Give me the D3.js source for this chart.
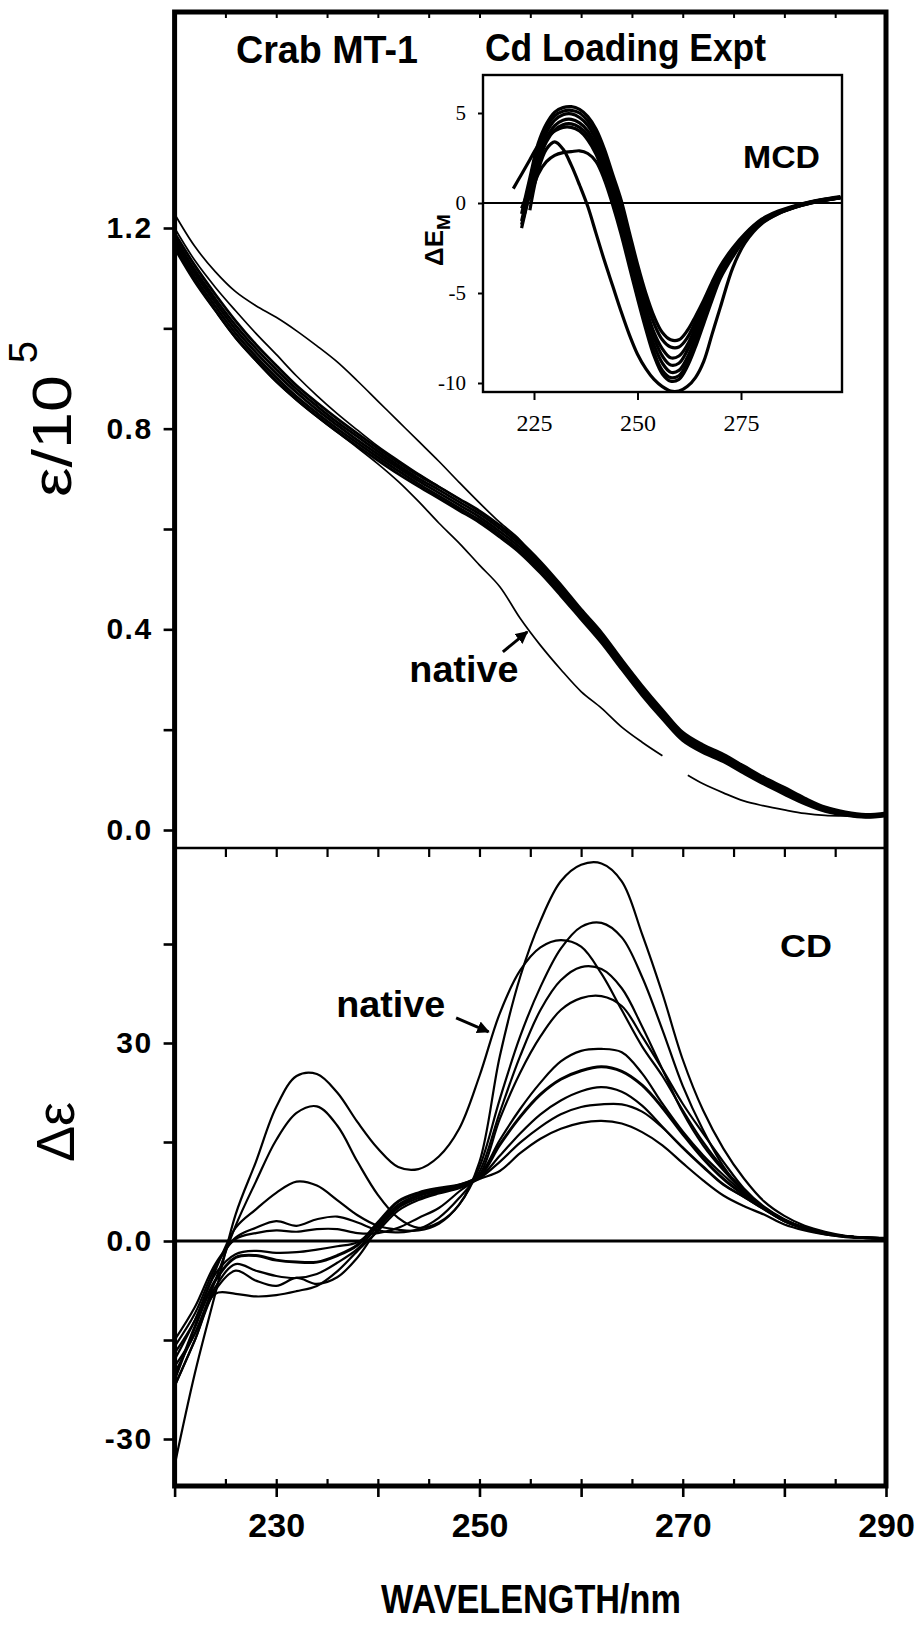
<!DOCTYPE html>
<html>
<head>
<meta charset="utf-8">
<style>
  body { margin: 0; background: #fff; }
  svg { display: block; background: #fff; }
  .lbl { font-family: "Liberation Sans", Arial, Helvetica, sans-serif; font-weight: bold; fill: #000; }
  .axis text { font-family: "Liberation Sans", Arial, Helvetica, sans-serif; font-weight: bold; fill: #000; }
  .axis line { stroke: #000; }
  .inset text { font-family: "Liberation Serif", "Times New Roman", serif; font-weight: normal; }
</style>
</head>
<body>
<svg id="chart" width="920" height="1625"></svg>
<script src="https://cdn.jsdelivr.net/npm/d3@7"></script>
<script>
// wavelength grid (nm) shared by the absorption and CD traces
const wl = [220,222,224,226,228,230,232,234,236,238,240,242,244,246,248,250,252,254,256,258,260,262,264,266,268,270,272,274,276,278,280,282,284,286,288,290];

// absorption, epsilon/10^5 (upper panel)
const absU  = [1.228,1.163,1.113,1.073,1.045,1.022,0.995,0.965,0.933,0.895,0.855,0.815,0.775,0.735,0.693,0.652,0.613,0.578,0.528,0.481,0.433,0.386,0.331,0.279,0.233,0.191,0.164,0.146,0.124,0.101,0.081,0.061,0.043,0.033,0.029,0.031];
const absV  = [1.200,1.135,1.082,1.035,0.990,0.948,0.905,0.866,0.830,0.797,0.765,0.737,0.710,0.685,0.660,0.635,0.606,0.574,0.533,0.487,0.438,0.391,0.337,0.285,0.237,0.193,0.167,0.149,0.126,0.103,0.083,0.062,0.045,0.035,0.030,0.033];
const absB1 = [1.190,1.125,1.068,1.015,0.968,0.926,0.886,0.852,0.820,0.790,0.761,0.733,0.707,0.684,0.660,0.636,0.607,0.575,0.535,0.489,0.440,0.394,0.340,0.288,0.240,0.195,0.170,0.151,0.128,0.105,0.085,0.064,0.046,0.036,0.031,0.034];
const absB2 = [1.182,1.116,1.059,1.006,0.960,0.918,0.879,0.845,0.813,0.784,0.755,0.727,0.701,0.678,0.654,0.630,0.601,0.569,0.529,0.484,0.435,0.388,0.334,0.282,0.235,0.190,0.165,0.147,0.124,0.101,0.081,0.060,0.043,0.033,0.029,0.032];
const absB3 = [1.175,1.109,1.052,0.998,0.952,0.910,0.872,0.838,0.807,0.777,0.749,0.722,0.696,0.672,0.648,0.624,0.595,0.563,0.523,0.478,0.430,0.383,0.329,0.277,0.230,0.186,0.161,0.143,0.120,0.098,0.078,0.057,0.041,0.031,0.027,0.030];
const absB4 = [1.168,1.101,1.044,0.990,0.944,0.902,0.864,0.831,0.800,0.771,0.743,0.716,0.690,0.666,0.642,0.618,0.589,0.557,0.517,0.472,0.425,0.378,0.324,0.272,0.225,0.182,0.157,0.139,0.116,0.094,0.074,0.054,0.039,0.030,0.026,0.029];
const absB5 = [1.160,1.093,1.036,0.982,0.937,0.895,0.858,0.825,0.794,0.765,0.737,0.710,0.685,0.661,0.637,0.613,0.584,0.552,0.512,0.467,0.420,0.373,0.320,0.268,0.221,0.178,0.154,0.136,0.113,0.091,0.071,0.052,0.037,0.029,0.025,0.028];
// native absorption has a pen break near 269 nm
const absNativeWl = [220,222,224,226,228,230,232,234,236,238,240,242,244,246,248,250,252,254,256,258,260,262,264,266,268,269,270.5,272,274,276,278,280,282,284,286,288,290];
const absNative   = [1.165,1.095,1.035,0.980,0.935,0.893,0.857,0.824,0.793,0.762,0.730,0.695,0.655,0.612,0.572,0.528,0.485,0.422,0.368,0.320,0.276,0.243,0.205,0.175,0.148,null,0.109,0.092,0.074,0.058,0.048,0.040,0.033,0.029,0.028,0.027,0.030];

// CD, delta epsilon (lower panel)
const cdNative = [-34,-20,-8,4,12,20.3,25,25.3,22.5,18,14,11.2,10.9,12.8,17,25,34.5,41,44.5,45.6,44.6,40.5,35,29.5,25,19.8,15,11,7.8,5,3.2,2,1.2,0.7,0.5,0.4];
const cd1 = [-19,-14,-6,2.3,9,15.3,19.4,20.4,17.5,12,7,3.5,2,2.8,5.5,12,28,40,48.5,54.5,57,57.2,54.5,46.5,37.5,27.5,19.8,14,9.5,6,3.8,2.3,1.4,0.8,0.5,0.4];
const cd2 = [-17,-12,-4.5,2,4.8,7.3,9,8.4,6.2,3.9,2.3,1.7,1.6,2.6,5.5,11.2,21.5,31,38.5,44.3,47.6,48.2,46,40,32,23.5,16.8,11.3,7.5,5,3.2,2,1.2,0.7,0.5,0.4];
const cd3 = [-16,-11,-4,0.5,2,3,2.3,3.3,3.7,2.8,1.6,1.3,1.8,3.5,6.5,10.5,19.5,28,35,39.5,41.5,41.2,38.3,32.5,26,19.5,14.5,10.7,7.5,5,3.2,2,1.2,0.7,0.5,0.4];
const cd4 = [-15,-10,-3.5,0.3,1.2,1.6,1.4,1.8,1.8,1.2,1.2,2,3.5,5,7.5,10,18.5,25.5,31,35,36.8,37.1,35.6,31,26,20.8,16.3,12,8,5.2,3.3,2,1.2,0.7,0.5,0.4];
const cd5 = [-18,-12,-5,-2,-1.5,-1.8,-1.7,-1.3,-0.8,-0.2,2.5,5.5,7,7.8,8.5,10,15.3,20,24,27.2,28.8,29.1,28.6,25.4,20.8,16.6,13,10,7.3,5,3.2,2,1.2,0.7,0.5,0.4];
const cd6 = [-21,-13,-6,-2.5,-2.2,-2.9,-3.2,-3.2,-2.2,-0.6,2.8,6,7.3,8,8.5,9.8,14.6,18.8,22.2,24.5,25.8,26.4,25.7,23.6,20.2,16.2,12.5,9.4,7,5,3.1,1.9,1.1,0.7,0.5,0.4];
const cd7 = [-20,-14,-7,-3.5,-4.5,-5.3,-5.6,-5,-3.3,-1.2,2.2,5.2,6.8,7.6,8.3,9.6,12.9,16.3,19.2,21.3,22.7,23.3,22.6,20.5,17.3,14.1,11.2,8.5,6.7,4.8,3,1.9,1.1,0.7,0.5,0.4];
const cd8 = [-22,-15,-7.5,-4.5,-6,-6.8,-5.6,-6.5,-5.5,-2.5,1.8,5,6.5,7.4,8.2,9.5,12,14.9,17.3,19.2,20.3,20.7,20.7,19.6,17.2,14.2,11.3,8.6,6.7,4.8,3,1.9,1.1,0.7,0.5,0.4];
const cd9 = [-22,-15,-8,-8,-8.4,-8.2,-7.6,-6.8,-4.6,-1.5,1.5,4.6,6.2,7.2,8,9.4,10.6,13.3,15.5,17,17.9,18.2,17.8,16.5,14.5,11.8,9.2,6.9,5.3,4,2.5,1.6,1,0.6,0.45,0.4];

// MCD inset, delta E_M
const mcdWl = [220,222,224,226,228,230,232,234,236,238,240,242,244,246,248,250,252,254,256,258,260,262,264,266,268,270,273,276,280,284,288,292,296,299];
const mcd1 = [null,-0.6,1.4,3.3,4.4,5.05,5.3,5.35,5.2,4.8,4.1,3.0,1.6,0.2,-1.6,-3.4,-5.0,-6.3,-7.2,-7.6,-7.6,-7.1,-6.3,-5.4,-4.4,-3.5,-2.5,-1.7,-0.9,-0.45,-0.15,0.08,0.25,0.35];
const mcd2 = [null,-1.0,1.0,3.0,4.2,4.85,5.1,5.15,5.0,4.55,3.8,2.7,1.3,-0.2,-2.0,-3.8,-5.4,-6.7,-7.6,-8.0,-8.0,-7.5,-6.6,-5.6,-4.6,-3.7,-2.6,-1.75,-0.95,-0.5,-0.18,0.06,0.23,0.33];
const mcd3 = [null,-1.4,0.6,2.6,3.9,4.6,4.9,4.95,4.75,4.3,3.5,2.4,1.0,-0.6,-2.4,-4.2,-5.8,-7.2,-8.1,-8.6,-8.5,-7.9,-6.9,-5.8,-4.8,-3.8,-2.7,-1.8,-1.0,-0.5,-0.2,0.05,0.22,0.32];
const mcd4 = [null,-0.3,0.9,2.5,3.6,4.3,4.6,4.65,4.45,4.0,3.2,2.1,0.7,-0.9,-2.7,-4.5,-6.1,-7.5,-8.5,-9.0,-8.9,-8.2,-7.2,-6.0,-4.9,-3.9,-2.75,-1.85,-1.0,-0.52,-0.2,0.04,0.2,0.3];
const mcd5 = [null,-1.2,0.5,2.2,3.4,4.05,4.35,4.4,4.2,3.75,2.95,1.8,0.4,-1.2,-3.0,-4.8,-6.5,-7.9,-8.9,-9.4,-9.3,-8.6,-7.5,-6.3,-5.1,-4.0,-2.8,-1.9,-1.05,-0.55,-0.22,0.03,0.2,0.3];
const mcd6 = [0.8,1.6,2.4,3.2,3.7,4.0,4.2,4.2,4.0,3.5,2.7,1.5,0.1,-1.5,-3.3,-5.1,-6.8,-8.3,-9.3,-9.7,-9.6,-8.9,-7.8,-6.5,-5.2,-4.1,-2.9,-1.95,-1.1,-0.57,-0.23,0.02,0.18,0.3];
const mcdFlat = [null,null,0.2,1.6,2.3,2.65,2.8,2.85,2.9,2.75,2.3,1.3,-0.1,-1.7,-3.5,-5.3,-7.0,-8.5,-9.5,-9.9,-9.8,-9.1,-8.0,-6.7,-5.4,-4.2,-3.0,-2.0,-1.1,-0.58,-0.24,0.0,0.18,0.28];
const mcdNative = [null,null,-0.4,1.8,3.0,3.4,3.0,2.1,1.0,-0.2,-1.7,-3.2,-4.6,-6.0,-7.3,-8.4,-9.2,-9.8,-10.2,-10.45,-10.45,-10.2,-9.7,-8.8,-7.3,-5.8,-3.6,-2.2,-1.15,-0.6,-0.25,0.0,0.17,0.28];

// ticks and labels
const xMinorTicks = [225,230,235,240,245,250,255,260,265,270,275,280,285];
const xMajorTicks = [220,230,240,250,260,270,280,290];
const xLabels = [230,250,270,290];
const absTicks = [0,0.2,0.4,0.6,0.8,1.0,1.2];
const absLabels = [0,0.4,0.8,1.2];
const cdTicks = [-30,-15,0,15,30,45];
const cdLabels = [-30,0,30];
const mcdYTicks = [5,0,-5,-10];
const mcdXTicks = [225,250,275];

// annotation anchors in data units
const absNote = { text: "native", x: 243.1, y: 0.295, from: [252.3, 0.355], to: [254.7, 0.395] };
const cdNote  = { text: "native", x: 235.9, y: 34.0, from: [247.7, 33.8], to: [250.9, 31.7] };

const svg = d3.select("#chart");

const frameTop = 12, divider = 848, frameBottom = 1486;
const x = d3.scaleLinear().domain([220, 290]).range([174.6, 886]);
const yAbs = d3.scaleLinear().domain([0, 1.2]).range([830, 228]);
const yCd = d3.scaleLinear().domain([0, 30]).range([1241, 1043]);
const xIn = d3.scaleLinear().domain([225, 275]).range([534, 741]);
const yIn = d3.scaleLinear().domain([0, 5]).range([203, 113]);
const inset = { left: 483, right: 842, top: 75, bottom: 392 };

function series(xs, ys) { return xs.map((d, i) => ({ x: d, y: ys[i] })); }

const smooth = d3.curveCatmullRom.alpha(0.5);
const lineAbs = d3.line().defined(d => d.y != null).x(d => x(d.x)).y(d => yAbs(d.y)).curve(smooth);
const lineCd = d3.line().defined(d => d.y != null).x(d => x(d.x)).y(d => yCd(d.y)).curve(smooth);
const lineIn = d3.line().defined(d => d.y != null).x(d => xIn(d.x)).y(d => yIn(d.y)).curve(smooth);

svg.append("defs").append("marker")
  .attr("id", "head").attr("viewBox", "0 0 10 10").attr("refX", 9).attr("refY", 5)
  .attr("markerWidth", 4.2).attr("markerHeight", 4.2).attr("orient", "auto")
  .append("path").attr("d", "M0,0 L10,5 L0,10 z").attr("fill", "#000");

// upper panel: absorption
const gAbs = svg.append("g").attr("fill", "none").attr("stroke", "#000").attr("stroke-linejoin", "round");
gAbs.selectAll("path.band")
  .data([absB1, absB2, absB3, absB4, absB5])
  .join("path").attr("class", "band")
  .attr("stroke-width", 2.8)
  .attr("d", d => lineAbs(series(wl, d)));
gAbs.selectAll("path.thin")
  .data([absU, absV])
  .join("path").attr("class", "thin")
  .attr("stroke-width", 1.7)
  .attr("d", d => lineAbs(series(wl, d)));
gAbs.append("path").attr("stroke-width", 1.7).attr("d", lineAbs(series(absNativeWl, absNative)));

// lower panel: CD
const gCd = svg.append("g").attr("fill", "none").attr("stroke", "#000").attr("stroke-linejoin", "round");
gCd.selectAll("path")
  .data([cdNative, cd1, cd2, cd3, cd4, cd5, cd6, cd7, cd8, cd9])
  .join("path")
  .attr("stroke-width", (d, i) => i == 6 ? 3 : 2.2)
  .attr("d", d => lineCd(series(wl, d)));

svg.append("line").attr("x1", x(220)).attr("x2", x(290)).attr("y1", yCd(0)).attr("y2", yCd(0))
  .attr("stroke", "#000").attr("stroke-width", 3);
svg.append("line").attr("x1", x(220)).attr("x2", x(290)).attr("y1", divider).attr("y2", divider)
  .attr("stroke", "#000").attr("stroke-width", 2.4);

// outer frame
svg.append("rect").attr("x", x(220)).attr("y", frameTop)
  .attr("width", x(290) - x(220)).attr("height", frameBottom - frameTop)
  .attr("fill", "none").attr("stroke", "#000").attr("stroke-width", 5);

function styleAxis(g, size, width) {
  g.select(".domain").remove();
  g.attr("font-size", null).attr("font-family", null);
  g.selectAll("line").attr("stroke-width", width);
  g.selectAll("text").style("font-size", size + "px");
  return g;
}

// x axes
styleAxis(svg.append("g").attr("class", "axis").attr("transform", `translate(0,${frameBottom})`)
  .call(d3.axisBottom(x).tickValues(xMajorTicks).tickSize(11).tickPadding(16)
    .tickFormat(d => xLabels.includes(d) ? d : "")), 34, 2.6);
styleAxis(svg.append("g").attr("class", "axis").attr("transform", `translate(0,${frameBottom})`)
  .call(d3.axisTop(x).tickValues(xMinorTicks).tickSize(7).tickFormat("")), 10, 2.2);
styleAxis(svg.append("g").attr("class", "axis").attr("transform", `translate(0,${divider})`)
  .call(d3.axisBottom(x).tickValues(xMinorTicks).tickSize(9).tickFormat("")), 10, 2.2);
styleAxis(svg.append("g").attr("class", "axis").attr("transform", `translate(0,${frameTop})`)
  .call(d3.axisBottom(x).tickValues(xMinorTicks).tickSize(6).tickFormat("")), 10, 2);

// y axes
styleAxis(svg.append("g").attr("class", "axis").attr("transform", `translate(${x(220)},0)`)
  .call(d3.axisLeft(yAbs).tickValues(absTicks).tickSize(11).tickPadding(11)
    .tickFormat(d => absLabels.includes(d) ? d3.format(".1f")(d) : "")), 30, 2.6)
  .selectAll("text").attr("letter-spacing", 1.5);
styleAxis(svg.append("g").attr("class", "axis").attr("transform", `translate(${x(220)},0)`)
  .call(d3.axisLeft(yCd).tickValues(cdTicks).tickSize(11).tickPadding(11)
    .tickFormat(d => cdLabels.includes(d) ? (d == 0 ? "0.0" : String(d)) : "")), 30, 2.6)
  .selectAll("text").attr("letter-spacing", 1.5);

// axis titles
svg.append("text").attr("class", "lbl").attr("x", 381).attr("y", 1613)
  .attr("textLength", 300).attr("lengthAdjust", "spacingAndGlyphs")
  .style("font-size", "41px").text("WAVELENGTH/nm");
svg.append("text").attr("transform", "translate(71,436) rotate(-90)").attr("text-anchor", "middle")
  .attr("textLength", 122).attr("lengthAdjust", "spacingAndGlyphs")
  .style("font-family", "'Liberation Sans', Arial, sans-serif").style("font-size", "56px").text("ε/10");
svg.append("text").attr("transform", "translate(37,352) rotate(-90)").attr("text-anchor", "middle")
  .style("font-family", "'Liberation Sans', Arial, sans-serif").style("font-size", "40px").text("5");
svg.append("text").attr("transform", "translate(74,1132) rotate(-90)").attr("text-anchor", "middle")
  .style("font-family", "'Liberation Sans', Arial, sans-serif").style("font-size", "54px").text("Δε");

// titles and panel labels
svg.append("text").attr("class", "lbl").attr("x", 236).attr("y", 63)
  .attr("textLength", 182).attr("lengthAdjust", "spacingAndGlyphs").style("font-size", "38px").text("Crab MT-1");
svg.append("text").attr("class", "lbl").attr("x", 485).attr("y", 61)
  .attr("textLength", 281).attr("lengthAdjust", "spacingAndGlyphs").style("font-size", "38px").text("Cd Loading Expt");
svg.append("text").attr("class", "lbl").attr("x", 780).attr("y", 957)
  .attr("textLength", 52).attr("lengthAdjust", "spacingAndGlyphs").style("font-size", "31px").text("CD");

// native annotations
[[absNote, yAbs], [cdNote, yCd]].forEach(([n, yS]) => {
  svg.append("text").attr("class", "lbl").attr("x", x(n.x)).attr("y", yS(n.y))
    .attr("textLength", 109).attr("lengthAdjust", "spacingAndGlyphs").style("font-size", "37px").text(n.text);
  svg.append("line")
    .attr("x1", x(n.from[0])).attr("y1", yS(n.from[1]))
    .attr("x2", x(n.to[0])).attr("y2", yS(n.to[1]))
    .attr("stroke", "#000").attr("stroke-width", 3).attr("marker-end", "url(#head)");
});

// MCD inset
const gIn = svg.append("g").attr("class", "inset");
gIn.append("clipPath").attr("id", "inclip").append("rect")
  .attr("x", inset.left).attr("y", inset.top)
  .attr("width", inset.right - inset.left).attr("height", inset.bottom - inset.top);
gIn.append("rect").attr("x", inset.left).attr("y", inset.top)
  .attr("width", inset.right - inset.left).attr("height", inset.bottom - inset.top)
  .attr("fill", "#fff");
gIn.append("line").attr("x1", inset.left).attr("x2", inset.right).attr("y1", yIn(0)).attr("y2", yIn(0))
  .attr("stroke", "#000").attr("stroke-width", 2.2);
gIn.append("g").attr("clip-path", "url(#inclip)").attr("fill", "none").attr("stroke", "#000")
  .selectAll("path")
  .data([mcd1, mcd2, mcd3, mcd4, mcd5, mcd6, mcdFlat, mcdNative])
  .join("path")
  .attr("stroke-width", 3.2)
  .attr("d", d => lineIn(series(mcdWl, d)));
gIn.append("rect").attr("x", inset.left).attr("y", inset.top)
  .attr("width", inset.right - inset.left).attr("height", inset.bottom - inset.top)
  .attr("fill", "none").attr("stroke", "#000").attr("stroke-width", 2.4);

const inY = gIn.append("g").attr("transform", `translate(${inset.left},0)`)
  .call(d3.axisLeft(yIn).tickValues(mcdYTicks).tickSize(5).tickPadding(12).tickFormat(d => String(d)));
inY.select(".domain").remove();
inY.attr("font-size", null).attr("font-family", null);
inY.selectAll("line").attr("stroke", "#000").attr("stroke-width", 2);
inY.selectAll("text").style("font-size", "21px").attr("fill", "#000");

const inX = gIn.append("g").attr("transform", `translate(0,${inset.bottom})`)
  .call(d3.axisBottom(xIn).tickValues(mcdXTicks).tickSize(8).tickPadding(14).tickFormat(d => String(d)));
inX.select(".domain").remove();
inX.attr("font-size", null).attr("font-family", null);
inX.selectAll("line").attr("stroke", "#000").attr("stroke-width", 2);
inX.selectAll("text").style("font-size", "24px").attr("fill", "#000");

svg.append("text").attr("class", "lbl").attr("x", 743).attr("y", 168)
  .attr("textLength", 77).attr("lengthAdjust", "spacingAndGlyphs").style("font-size", "32px").text("MCD");
const dE = svg.append("text").attr("class", "lbl").attr("transform", "translate(443,240) rotate(-90)")
  .attr("text-anchor", "middle").style("font-size", "26px");
dE.append("tspan").text("ΔE");
dE.append("tspan").attr("dy", 7).style("font-size", "19px").text("M");
</script>
</body>
</html>
